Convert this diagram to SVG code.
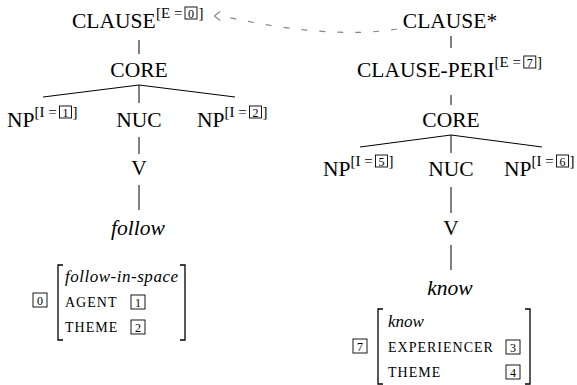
<svg xmlns="http://www.w3.org/2000/svg" width="577" height="385" viewBox="0 0 577 385">
<style>
.lbl{font-family:"Liberation Serif",serif;font-size:21.5px;fill:#000}
.it{font-style:italic}
.sup{font-family:"Liberation Serif",serif;font-size:15px;fill:#000}
.dig{font-family:"Liberation Serif",serif;font-size:12px;fill:#000;text-anchor:middle}
.box{fill:none;stroke:#000;stroke-width:0.9}
.avm{font-family:"Liberation Serif",serif;font-size:14px;letter-spacing:1px;fill:#000}
.avmi{font-family:"Liberation Serif",serif;font-size:17px;font-style:italic;fill:#000}
.edge{stroke:#000;stroke-width:1;fill:none}
.brk{stroke:#000;stroke-width:1.3;fill:none}
.dash{stroke:#888;stroke-width:1.2;fill:none;stroke-dasharray:6 12}
</style>
<g id="connectors">
<line class="edge" x1="139" y1="40" x2="139" y2="54"/>
<line class="edge" x1="139" y1="85" x2="43" y2="97"/>
<line class="edge" x1="139" y1="85" x2="139" y2="103"/>
<line class="edge" x1="139" y1="85" x2="235" y2="97"/>
<line class="edge" x1="139" y1="137" x2="139" y2="154"/>
<line class="edge" x1="139" y1="185" x2="139" y2="210"/>
<line class="edge" x1="451" y1="36" x2="451" y2="48"/>
<line class="edge" x1="451" y1="95" x2="451" y2="105"/>
<line class="edge" x1="451" y1="135" x2="360" y2="147"/>
<line class="edge" x1="451" y1="135" x2="451" y2="153"/>
<line class="edge" x1="451" y1="135" x2="542" y2="147"/>
<line class="edge" x1="451" y1="187" x2="451" y2="213"/>
<line class="edge" x1="451" y1="245" x2="451" y2="270"/>
<path class="dash" d="M397,29 Q330,40 222,16"/>
<polyline points="220,11.5 214.5,16 220,20.5" fill="none" stroke="#888" stroke-width="1.2"/>
</g>
<g id="clause-left">
<text class="lbl" x="72" y="28">CLAUSE</text>
<text class="sup" x="156" y="18">[E =</text>
<rect class="box" x="185" y="7" width="12" height="12"/>
<text class="dig" x="191" y="17.5">0</text>
<text class="sup" x="198.5" y="18">]</text>
</g>
<g id="core-left"><text class="lbl" x="139" y="77" text-anchor="middle">CORE</text></g>
<g id="np1">
<text class="lbl" x="7" y="127">NP</text>
<text class="sup" x="34.5" y="117">[I =</text>
<rect class="box" x="59.5" y="106" width="12" height="12"/>
<text class="dig" x="65.5" y="116.5">1</text>
<text class="sup" x="72.5" y="117">]</text>
</g>
<g id="nuc-left"><text class="lbl" x="139" y="127" text-anchor="middle">NUC</text></g>
<g id="np2">
<text class="lbl" x="197" y="127">NP</text>
<text class="sup" x="224.5" y="117">[I =</text>
<rect class="box" x="249.5" y="106" width="12" height="12"/>
<text class="dig" x="255.5" y="116.5">2</text>
<text class="sup" x="262.5" y="117">]</text>
</g>
<g id="v-left"><text class="lbl" x="139" y="175" text-anchor="middle">V</text></g>
<g id="follow"><text class="lbl it" x="138" y="235" text-anchor="middle">follow</text></g>
<g id="avm-left">
<rect class="box" x="33" y="293" width="14" height="14"/>
<text class="dig" x="40" y="304.5">0</text>
<path class="brk" d="M63,265 H58 V340 H63"/>
<path class="brk" d="M180,265 H185 V340 H180"/>
<text class="avmi" x="65" y="282" textLength="113" lengthAdjust="spacing">follow-in-space</text>
<text class="avm" x="65" y="307">AGENT</text>
<rect class="box" x="131" y="295" width="14" height="14"/>
<text class="dig" x="138" y="306.5">1</text>
<text class="avm" x="65" y="332">THEME</text>
<rect class="box" x="131" y="320" width="14" height="14"/>
<text class="dig" x="138" y="331.5">2</text>
</g>
<g id="clause-star"><text class="lbl" x="450" y="28" text-anchor="middle">CLAUSE*</text></g>
<g id="clause-peri">
<text class="lbl" x="357" y="77">CLAUSE-PERI</text>
<text class="sup" x="494.5" y="67">[E =</text>
<rect class="box" x="523.8" y="56" width="12" height="12"/>
<text class="dig" x="529.8" y="66.5">7</text>
<text class="sup" x="537" y="67">]</text>
</g>
<g id="core-right"><text class="lbl" x="451" y="127" text-anchor="middle">CORE</text></g>
<g id="np5">
<text class="lbl" x="323" y="176">NP</text>
<text class="sup" x="350.5" y="166">[I =</text>
<rect class="box" x="375.5" y="155" width="12" height="12"/>
<text class="dig" x="381.5" y="165.5">5</text>
<text class="sup" x="388.5" y="166">]</text>
</g>
<g id="nuc-right"><text class="lbl" x="451" y="176" text-anchor="middle">NUC</text></g>
<g id="np6">
<text class="lbl" x="504" y="176">NP</text>
<text class="sup" x="531.5" y="166">[I =</text>
<rect class="box" x="556.5" y="155" width="12" height="12"/>
<text class="dig" x="562.5" y="165.5">6</text>
<text class="sup" x="569.5" y="166">]</text>
</g>
<g id="v-right"><text class="lbl" x="451" y="235" text-anchor="middle">V</text></g>
<g id="know"><text class="lbl it" x="450" y="295" text-anchor="middle">know</text></g>
<g id="avm-right">
<rect class="box" x="353" y="339" width="14" height="14"/>
<text class="dig" x="360" y="350.5">7</text>
<path class="brk" d="M383,309 H378 V384 H383"/>
<path class="brk" d="M525,309 H530 V384 H525"/>
<text class="avmi" x="388" y="327">know</text>
<text class="avm" x="388" y="352">EXPERIENCER</text>
<rect class="box" x="506" y="340" width="14" height="14"/>
<text class="dig" x="513" y="351.5">3</text>
<text class="avm" x="388" y="377">THEME</text>
<rect class="box" x="506" y="365" width="14" height="14"/>
<text class="dig" x="513" y="376.5">4</text>
</g>
</svg>
